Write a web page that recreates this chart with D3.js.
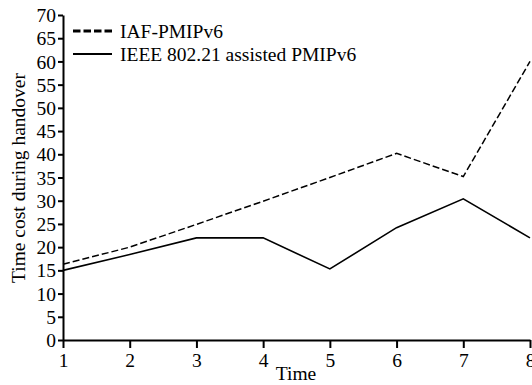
<!DOCTYPE html>
<html>
<head>
<meta charset="utf-8">
<script src="https://cdn.jsdelivr.net/npm/d3@7"></script>
<style>
  body { margin: 0; background: #fff; }
</style>
</head>
<body>
<div id="chart"></div>
<script>
var times = [1, 2, 3, 4, 5, 6, 7, 8];
var iafPmip = [16.3, 20, 24.9, 29.9, 35, 40.2, 35.2, 60];
var ieeeAssisted = [15, 18.4, 22, 22, 15.3, 24.2, 30.4, 22];
var yTicks = d3.range(0, 75, 5);
var seriesNames = ['IAF-PMIPv6', 'IEEE 802.21 assisted PMIPv6'];

var width = 532, height = 385;
var margin = {top: 15, right: 2, bottom: 45, left: 63};
var serif = '"Liberation Serif", "Times New Roman", "DejaVu Serif", serif';
var fontSize = '19.5px';

var svg = d3.select('#chart')
  .append('svg')
  .attr('width', width)
  .attr('height', height)
  .style('font-family', serif);

var x = d3.scaleLinear().domain([1, 8]).range([margin.left, width - margin.right]);
var y = d3.scaleLinear().domain([0, 70]).range([height - margin.bottom, margin.top]);

// axes
var xAxis = svg.append('g')
  .attr('transform', 'translate(0,' + y(0) + ')')
  .call(d3.axisBottom(x).tickValues(times).tickFormat(d3.format('d')).tickSize(8).tickSizeOuter(0));
var yAxis = svg.append('g')
  .attr('transform', 'translate(' + x(1) + ',0)')
  .call(d3.axisLeft(y).tickValues(yTicks).tickSize(5).tickSizeOuter(0));

[xAxis, yAxis].forEach(function (g) {
  g.attr('font-family', null).attr('font-size', null);
  g.selectAll('path, line').attr('stroke', '#000').attr('stroke-width', 2);
  g.selectAll('text')
    .style('font-family', serif)
    .style('font-size', fontSize)
    .attr('fill', '#000');
});
xAxis.selectAll('text').attr('y', 27).attr('dy', null);
yAxis.selectAll('text').attr('x', -7).attr('dy', '0.34em');

// lines
var line = d3.line()
  .x(function (d, i) { return x(times[i]); })
  .y(function (d) { return y(d); });

svg.append('path')
  .datum(iafPmip)
  .attr('d', line)
  .attr('fill', 'none')
  .attr('stroke', '#000')
  .attr('stroke-width', 1.5)
  .attr('stroke-dasharray', '7,3');

svg.append('path')
  .datum(ieeeAssisted)
  .attr('d', line)
  .attr('fill', 'none')
  .attr('stroke', '#000')
  .attr('stroke-width', 1.6);

// legend
var legend = svg.append('g').attr('transform', 'translate(73,31)');
seriesNames.forEach(function (name, i) {
  var row = legend.append('g').attr('transform', 'translate(0,' + i * 23 + ')');
  row.append('line')
    .attr('x1', 0).attr('x2', 39)
    .attr('stroke', '#000')
    .attr('stroke-width', i === 0 ? 2.8 : 2)
    .attr('stroke-dasharray', i === 0 ? '7.5,3' : null);
  row.append('text')
    .attr('x', 47).attr('y', 6.5)
    .style('font-family', serif)
    .style('font-size', fontSize)
    .text(name);
});

// axis titles
svg.append('text')
  .attr('x', 296).attr('y', 380)
  .attr('text-anchor', 'middle')
  .style('font-family', serif)
  .style('font-size', fontSize)
  .text('Time');

svg.append('text')
  .attr('transform', 'translate(25,178) rotate(-90)')
  .attr('text-anchor', 'middle')
  .style('font-family', serif)
  .style('font-size', fontSize)
  .text('Time cost during handover');
</script>
</body>
</html>
